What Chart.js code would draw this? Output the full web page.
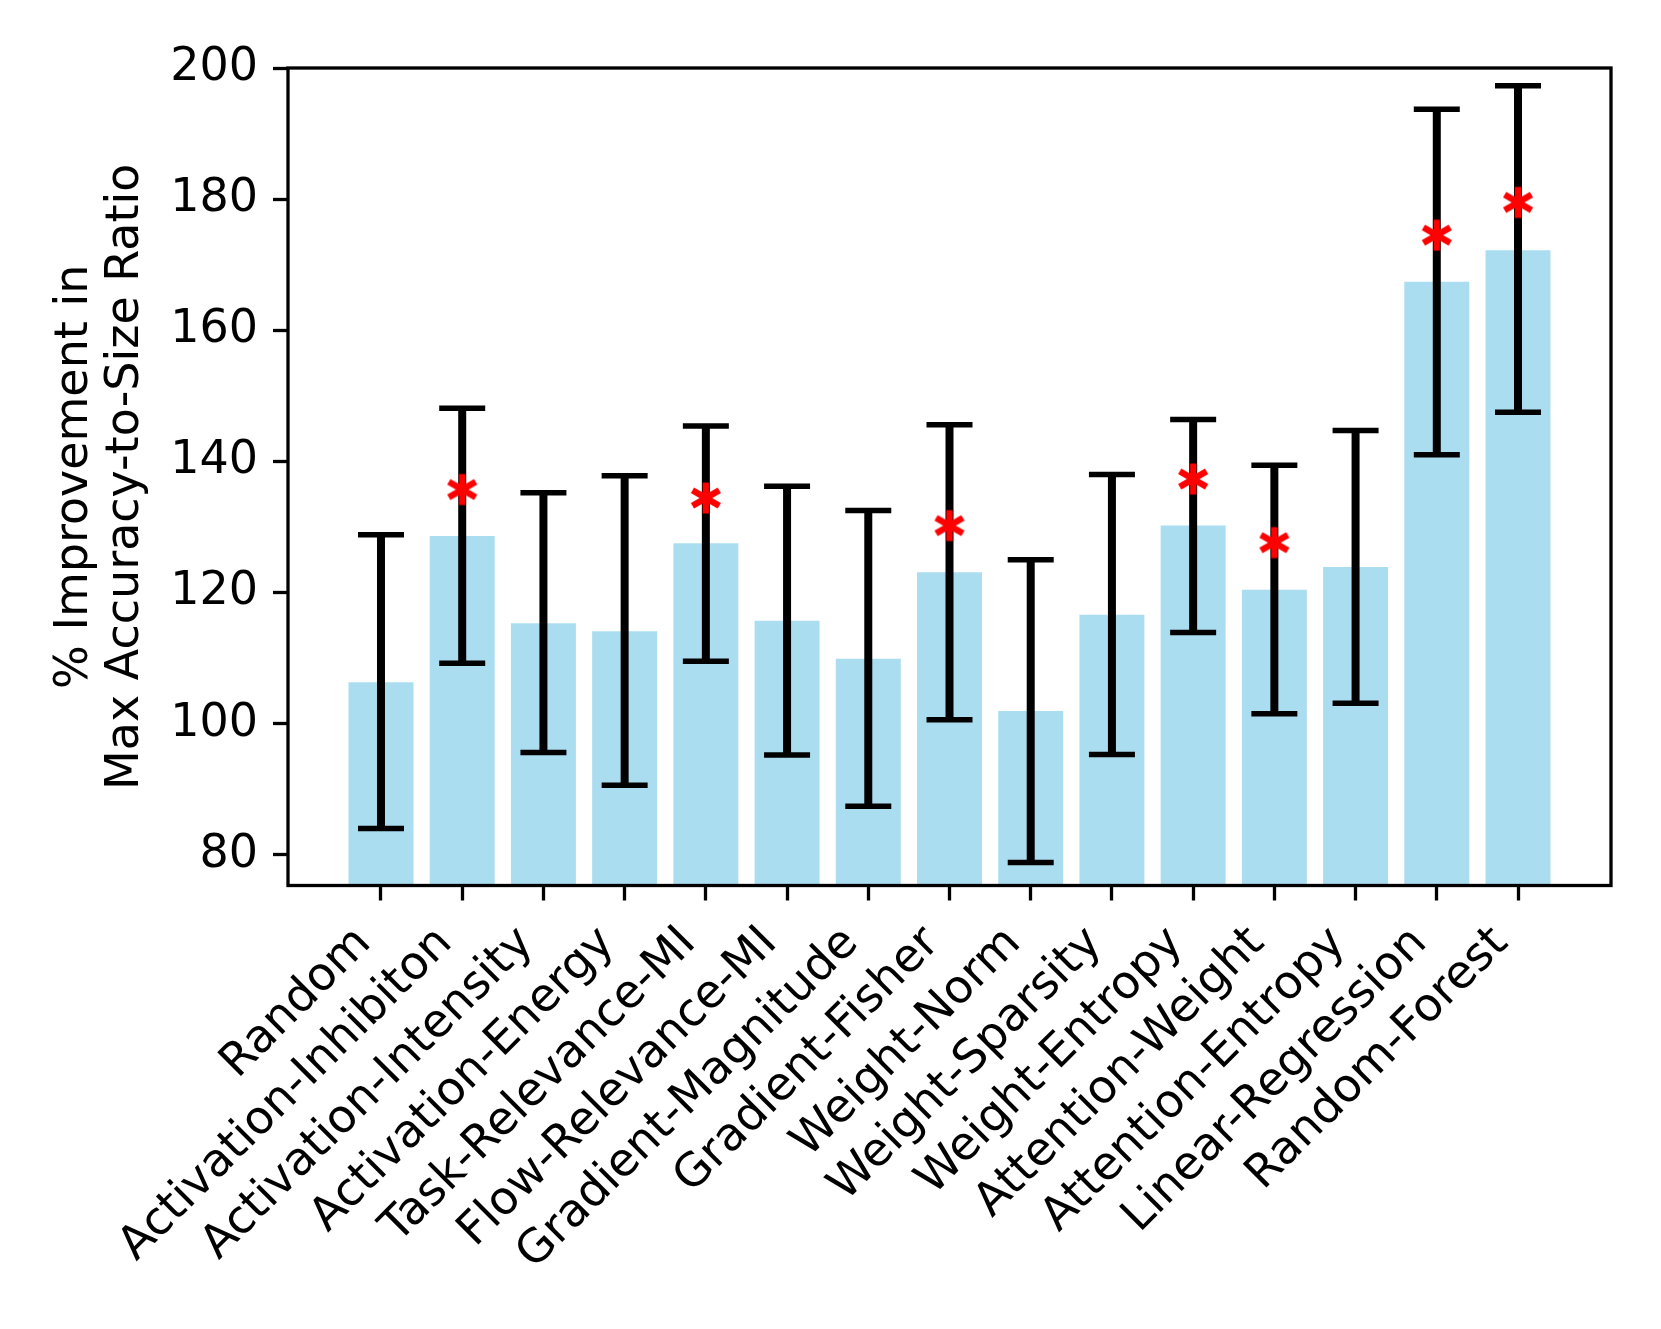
<!DOCTYPE html>
<html>
<head>
<meta charset="utf-8">
<script src="https://cdn.jsdelivr.net/npm/chart.js@4.4.1/dist/chart.umd.min.js"></script>
<style>
  html, body { margin: 0; padding: 0; background: #fff; }
  canvas { display: block; }
</style>
</head>
<body>
<canvas id="improvementChart" width="1661" height="1329" style="width:1661px;height:1329px"></canvas>
<script>
const categories = ['Random', 'Activation-Inhibiton', 'Activation-Intensity', 'Activation-Energy',
    'Task-Relevance-MI', 'Flow-Relevance-MI', 'Gradient-Magnitude', 'Gradient-Fisher',
    'Weight-Norm', 'Weight-Sparsity', 'Weight-Entropy', 'Attention-Weight',
    'Attention-Entropy', 'Linear-Regression', 'Random-Forest'];
const means = [106.3, 128.6, 115.3, 114.1, 127.5, 115.7, 109.9, 123.1, 101.9, 116.6, 130.2, 120.4, 123.9, 167.4, 172.2];
const errLow = [84.0, 109.2, 95.6, 90.6, 109.5, 95.2, 87.4, 100.6, 78.8, 95.3, 113.9, 101.5, 103.1, 141.0, 147.5];
const errHigh = [128.8, 148.1, 135.2, 137.8, 145.4, 136.2, 132.5, 145.6, 125.0, 138.0, 146.4, 139.4, 144.7, 193.7, 197.3];
// significance markers (null = none)
const stars = [null, 135.7, null, null, 134.4, null, null, 130.2, null, null, 137.3, 127.6, null, 174.5, 179.5];
const yTicks = [80, 100, 120, 140, 160, 180, 200];
const yMin = 75.3, yMax = 200;

Chart.defaults.font.family = 'DejaVu Sans';
Chart.defaults.font.size = 46;
Chart.defaults.color = '#000';

// red asterisk marker
function makeAsterisk() {
    const c = document.createElement('canvas');
    c.width = 40; c.height = 40;
    const g = c.getContext('2d');
    g.strokeStyle = '#ff0000';
    g.lineWidth = 6.5;
    const r = 15.5;
    [90, 30, -30].forEach(a => {
        const t = a * Math.PI / 180;
        g.beginPath();
        g.moveTo(20 - r * Math.cos(t), 20 - r * Math.sin(t));
        g.lineTo(20 + r * Math.cos(t), 20 + r * Math.sin(t));
        g.stroke();
    });
    return c;
}

const errorBars = {
    id: 'errorBars',
    afterDatasetDraw(chart, args) {
        if (args.index !== 0) return;
        const {ctx, scales: {x, y}} = chart;
        ctx.save();
        ctx.strokeStyle = '#000';
        means.forEach((m, i) => {
            const px = x.getPixelForValue(i);
            const lo = y.getPixelForValue(errLow[i]);
            const hi = y.getPixelForValue(errHigh[i]);
            ctx.lineWidth = 8;
            ctx.beginPath();
            ctx.moveTo(px, lo);
            ctx.lineTo(px, hi);
            ctx.stroke();
            ctx.lineWidth = 5.5;
            ctx.beginPath();
            ctx.moveTo(px - 23, lo); ctx.lineTo(px + 23, lo);
            ctx.moveTo(px - 23, hi); ctx.lineTo(px + 23, hi);
            ctx.stroke();
        });
        ctx.restore();
    }
};

const frame = {
    id: 'frame',
    afterDraw(chart) {
        const {ctx, chartArea: a} = chart;
        ctx.save();
        ctx.strokeStyle = '#000';
        ctx.lineWidth = 3.3;
        ctx.strokeRect(a.left, a.top, a.right - a.left, a.bottom - a.top);
        ctx.restore();
    }
};

new Chart(document.getElementById('improvementChart'), {
    type: 'bar',
    data: {
        datasets: [{
            type: 'bar',
            data: means.map((v, i) => ({x: i, y: v})),
            backgroundColor: 'rgba(135, 206, 235, 0.7)',
            barPercentage: 0.8,
            categoryPercentage: 1.0,
            clip: 0,
            order: 2
        }, {
            type: 'scatter',
            data: stars.map((v, i) => ({x: i, y: v})).filter(p => p.y !== null),
            pointStyle: makeAsterisk(),
            order: 1
        }]
    },
    options: {
        responsive: false,
        animation: false,
        devicePixelRatio: 1,
        layout: { padding: { left: 0, top: 68, right: 50, bottom: 0 } },
        plugins: { legend: { display: false }, tooltip: { enabled: false } },
        scales: {
            x: {
                type: 'linear',
                min: -1.145,
                max: 15.145,
                offset: false,
                grid: { offset: false, drawOnChartArea: false, drawTicks: true, tickLength: 15, tickWidth: 3.3, tickColor: '#000' },
                border: { display: false },
                afterBuildTicks: (scale) => { scale.ticks = categories.map((c, i) => ({value: i})); },
                afterFit: (scale) => { scale.height = 1329 - 885.5; },
                ticks: {
                    autoSkip: false,
                    minRotation: 45,
                    maxRotation: 45,
                    padding: 16,
                    labelOffset: -17,
                    callback: (value) => categories[value]
                }
            },
            y: {
                min: yMin,
                max: yMax,
                grid: { drawOnChartArea: false, drawTicks: true, tickLength: 15, tickWidth: 3.3, tickColor: '#000' },
                border: { display: false },
                afterBuildTicks: (scale) => { scale.ticks = yTicks.map(v => ({value: v})); },
                afterFit: (scale) => { scale.width = 288; },
                ticks: { padding: 15 },
                title: {
                    display: true,
                    text: ['% Improvement in', 'Max Accuracy-to-Size Ratio'],
                    font: { size: 46, lineHeight: 1.1 },
                    padding: { top: 50, bottom: 0 }
                }
            }
        }
    },
    plugins: [errorBars, frame]
});
</script>
</body>
</html>
